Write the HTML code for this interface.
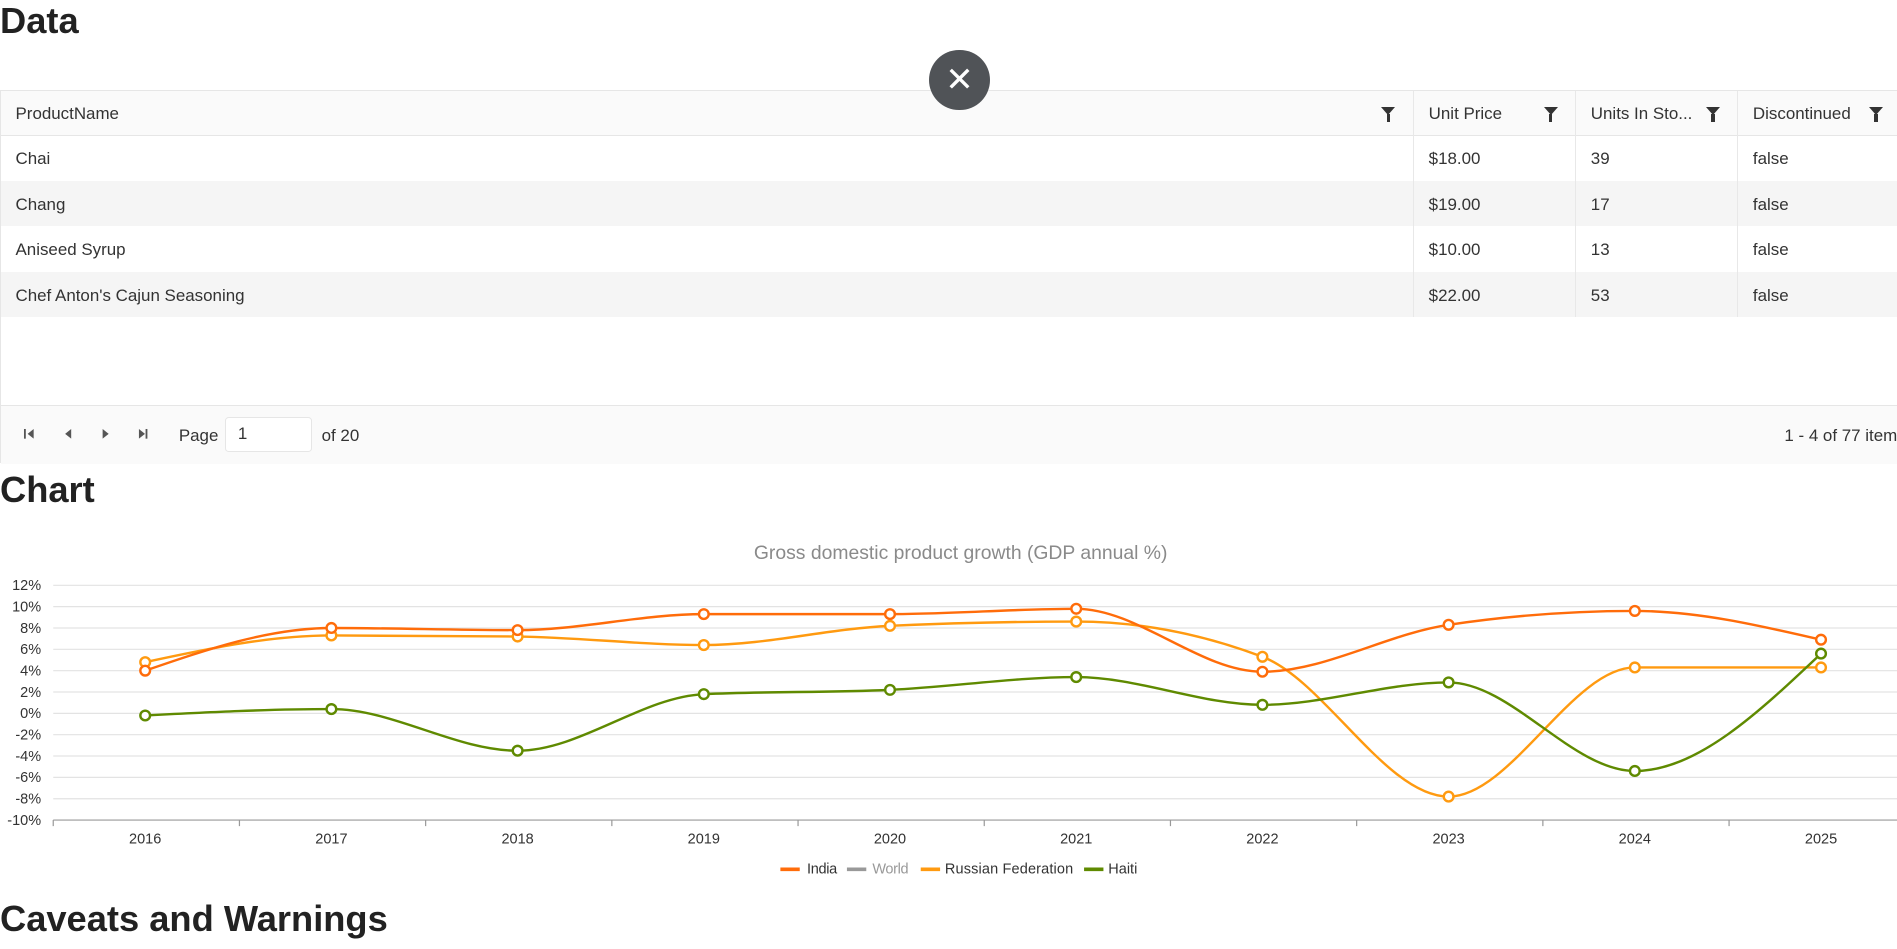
<!DOCTYPE html>
<html><head><meta charset="utf-8">
<style>
html{zoom:1.2099}
body{margin:0;width:1568px;height:784px;overflow:hidden;font-family:"Liberation Sans",sans-serif;color:#333;background:#fff;position:relative}
.h{position:absolute;left:0;font-weight:bold;font-size:30px;color:#222;margin:0}
.grid{position:absolute;left:0;top:74px;width:1580px;height:309px;border:1px solid #e6e6e6;box-sizing:border-box}
.row{position:absolute;left:0;width:1580px;font-size:14px}
.cell{position:absolute;top:0;height:100%;display:flex;align-items:center;padding-left:12px;padding-top:2px;box-sizing:border-box}
.fil{position:absolute;width:0;height:0;border-left:6px solid transparent;border-right:6px solid transparent;border-top:7px solid #333}
.fil:after{content:"";position:absolute;left:-1.5px;top:-1px;width:3px;height:6px;background:#333}
.vl{position:absolute;top:0;width:1px;height:187px;background:#e8e8e8}
.close{position:absolute;left:768px;top:41px;width:50px;height:50px;border-radius:50%;background:#505357;color:#fff;font-size:28px;text-align:center;line-height:50px}
</style></head><body>
<div class="h" style="top:0px">Data</div>
<div class="grid">
 <div class="row" style="top:0;height:37px;background:#fafafa;border-bottom:1px solid #e6e6e6">
  <div class="cell" style="left:0">ProductName</div><div class="cell" style="left:1168px">Unit Price</div><div class="cell" style="left:1302px">Units In Sto...</div><div class="cell" style="left:1436px">Discontinued</div>
  <div class="fil" style="left:1141px;top:14px"></div><div class="fil" style="left:1275px;top:14px"></div><div class="fil" style="left:1409px;top:14px"></div><div class="fil" style="left:1544px;top:14px"></div>
 </div>
 <div class="row" style="top:37px;height:38px"><div class="cell">Chai</div><div class="cell" style="left:1168px">$18.00</div><div class="cell" style="left:1302px">39</div><div class="cell" style="left:1436px">false</div></div>
 <div class="row" style="top:75px;height:37px;background:#f5f5f5"><div class="cell">Chang</div><div class="cell" style="left:1168px">$19.00</div><div class="cell" style="left:1302px">17</div><div class="cell" style="left:1436px">false</div></div>
 <div class="row" style="top:112px;height:38px"><div class="cell">Aniseed Syrup</div><div class="cell" style="left:1168px">$10.00</div><div class="cell" style="left:1302px">13</div><div class="cell" style="left:1436px">false</div></div>
 <div class="row" style="top:150px;height:37px;background:#f5f5f5"><div class="cell">Chef Anton's Cajun Seasoning</div><div class="cell" style="left:1168px">$22.00</div><div class="cell" style="left:1302px">53</div><div class="cell" style="left:1436px">false</div></div>
 <div class="vl" style="left:1167px"></div><div class="vl" style="left:1301px"></div><div class="vl" style="left:1435px"></div>
 <div class="row" style="top:260px;height:48px;background:#fafafa;border-top:1px solid #e6e6e6">
  <svg width="130" height="48" style="position:absolute;left:0;top:0" fill="#555">
   <rect x="19" y="19" width="1.5" height="8"/><polygon points="27,19 27,27 22,23"/>
   <polygon points="58,19 58,27 53,23"/>
   <polygon points="84,19 84,27 89,23"/>
   <polygon points="114,19 114,27 119,23"/><rect x="119.5" y="19" width="1.5" height="8"/>
  </svg>
  <div class="cell" style="left:135px">Page</div>
  <div style="position:absolute;left:185px;top:9px;width:72px;height:29px;background:#fff;border:1px solid #e6e6e6;border-radius:3px;box-sizing:border-box;padding-left:10px;line-height:27px">1</div>
  <div class="cell" style="left:253px">of 20</div>
  <div class="cell" style="left:1462px">1 - 4 of 77 items</div>
 </div>
</div>
<div class="close">✕</div>
<div class="h" style="top:388px">Chart</div>
<svg id="c" width="1568" height="784" style="position:absolute;left:0;top:0" font-family="Liberation Sans, sans-serif"></svg>
<script>
var s='',X0=44,X1=1568,step=153.9;
function yv(v){return 589.6-v*8.82;}
function xv(i){return 120+i*step;}
s+='<text x="794" y="462" text-anchor="middle" font-size="16" fill="#8a8a8a">Gross domestic product growth (GDP annual %)</text>';
for(var v=-10;v<=12;v+=2){var y=yv(v);
 if(v>-10)s+='<line x1="'+X0+'" x2="'+X1+'" y1="'+y+'" y2="'+y+'" stroke="#e3e3e3" stroke-width="1"/>';
 s+='<text x="34" y="'+(y+4)+'" text-anchor="end" font-size="12" fill="#333">'+v+'%</text>';}
var yb=yv(-10);
s+='<line x1="'+X0+'" x2="'+X1+'" y1="'+yb+'" y2="'+yb+'" stroke="#999" stroke-width="1"/>';
for(var i=0;i<=10;i++){var x=X0+i*step;s+='<line x1="'+x+'" x2="'+x+'" y1="'+yb+'" y2="'+(yb+5)+'" stroke="#999"/>';}
for(var i=0;i<10;i++)s+='<text x="'+xv(i)+'" y="697" text-anchor="middle" font-size="12" fill="#333">'+(2016+i)+'</text>';
function mono(pts){var n=pts.length,d=[],m=[];
 for(var i=0;i<n-1;i++)d.push((pts[i+1][1]-pts[i][1])/(pts[i+1][0]-pts[i][0]));
 for(var i=0;i<n;i++){if(i==0)m.push(d[0]);else if(i==n-1)m.push(d[n-2]);else{
  if(d[i-1]*d[i]<=0)m.push(0);else{var h0=pts[i][0]-pts[i-1][0],h1=pts[i+1][0]-pts[i][0];var p=(d[i-1]*h1+d[i]*h0)/(h0+h1);
  m.push((Math.sign(d[i-1])+Math.sign(d[i]))*Math.min(Math.abs(d[i-1]),Math.abs(d[i]),0.5*Math.abs(p)));}}}
 m[0]=n>1?(3*d[0]-m[1])/2:0;m[n-1]=(3*d[n-2]-m[n-2])/2;
 var p='M'+pts[0][0]+','+pts[0][1];
 for(var i=0;i<n-1;i++){var h=(pts[i+1][0]-pts[i][0])/3;
 p+=' C'+(pts[i][0]+h)+','+(pts[i][1]+h*m[i])+' '+(pts[i+1][0]-h)+','+(pts[i+1][1]-h*m[i+1])+' '+pts[i+1][0]+','+pts[i+1][1];}
 return p;}
var series=[
 ['#ff9a10',[4.8,7.3,7.2,6.4,8.2,8.6,5.3,-7.8,4.3,4.3]],
 ['#ff6c0a',[4.0,8.0,7.8,9.3,9.3,9.8,3.9,8.3,9.6,6.9]],
 ['#5f8a00',[-0.2,0.4,-3.5,1.8,2.2,3.4,0.8,2.9,-5.4,5.6]]];
series.forEach(function(se){var pts=se[1].map(function(v,i){return [xv(i),yv(v)];});
 s+='<path d="'+mono(pts)+'" fill="none" stroke="'+se[0]+'" stroke-width="2"/>';
 pts.forEach(function(p){s+='<circle cx="'+p[0]+'" cy="'+p[1]+'" r="4" fill="#fff" stroke="'+se[0]+'" stroke-width="2"/>';});});
var lg=[['#ff6c0a','India',645,667,'#333'],['#999','World',700,721,'#999'],['#ff9a10','Russian Federation',761,781,'#333'],['#5f8a00','Haiti',896,916,'#333']];
lg.forEach(function(l){s+='<rect x="'+l[2]+'" y="717" width="16" height="3" fill="'+l[0]+'"/><text x="'+l[3]+'" y="722" font-size="12" textLength="'+({India:25,World:30,'Russian Federation':106,Haiti:24})[l[1]]+'" fill="'+l[4]+'">'+l[1]+'</text>';});
document.getElementById('c').innerHTML=s;
</script>
<div class="h" style="top:742px">Caveats and Warnings</div>
</body></html>
